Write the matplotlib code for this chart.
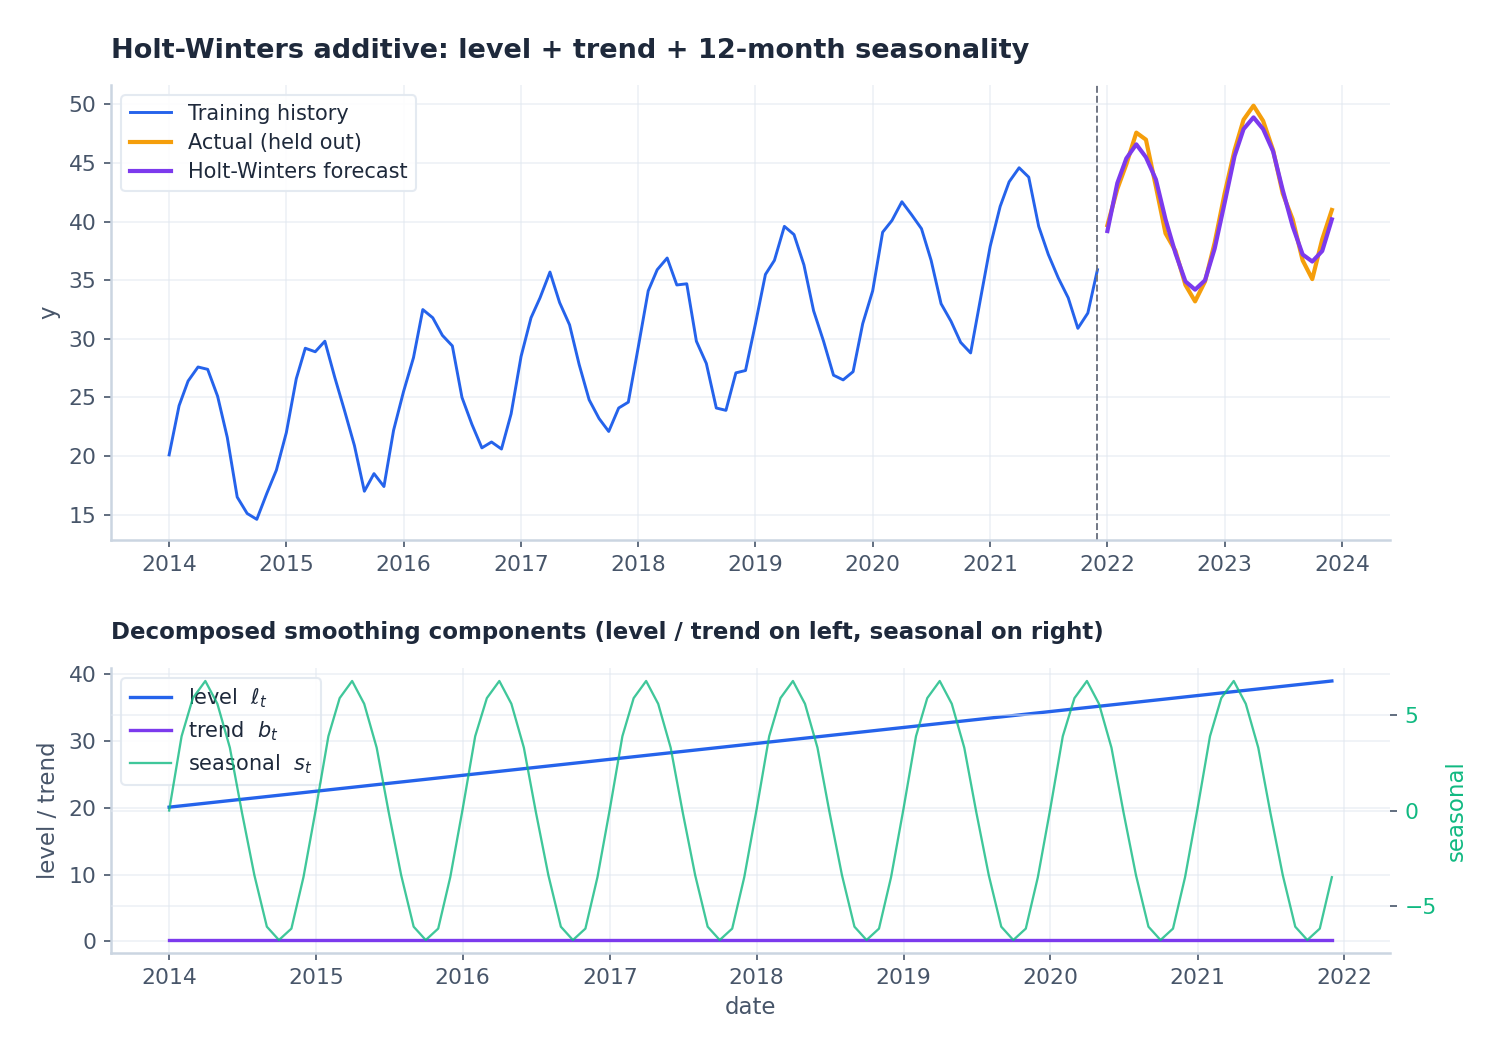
import matplotlib
matplotlib.use('Agg')
import matplotlib.pyplot as plt
import matplotlib.dates as mdates
from matplotlib.ticker import MultipleLocator
import pandas as pd

# monthly dates
train_dates = pd.date_range('2014-01-01', '2021-12-01', freq='MS')
test_dates = pd.date_range('2022-01-01', '2023-12-01', freq='MS')

train_y = [
    20.1, 24.3, 26.4, 27.6, 27.4, 25.1, 21.6, 16.5, 15.1, 14.6, 16.8, 18.8,
    22.0, 26.6, 29.2, 28.9, 29.8, 26.7, 23.9, 20.9, 17.0, 18.5, 17.4, 22.2,
    25.5, 28.4, 32.5, 31.8, 30.3, 29.4, 25.0, 22.7, 20.7, 21.2, 20.6, 23.6,
    28.5, 31.8, 33.5, 35.7, 33.1, 31.2, 27.8, 24.8, 23.2, 22.1, 24.1, 24.6,
    29.3, 34.1, 35.9, 36.9, 34.6, 34.7, 29.8, 27.9, 24.1, 23.9, 27.1, 27.3,
    31.3, 35.5, 36.7, 39.6, 38.9, 36.3, 32.4, 29.8, 26.9, 26.5, 27.2, 31.3,
    34.1, 39.1, 40.1, 41.7, 40.6, 39.4, 36.7, 33.0, 31.5, 29.7, 28.8, 33.3,
    37.9, 41.3, 43.4, 44.6, 43.8, 39.6, 37.2, 35.2, 33.5, 30.9, 32.2, 35.9,
]
actual_y = [
    39.7, 42.8, 44.9, 47.6, 47.0, 43.0, 39.0, 37.5, 34.6, 33.2, 34.9, 38.2,
    42.4, 46.1, 48.7, 49.9, 48.6, 46.1, 42.4, 40.2, 36.7, 35.1, 38.5, 41.0,
]
forecast_y = [
    39.2, 43.3, 45.4, 46.6, 45.5, 43.6, 40.2, 37.3, 34.9, 34.2, 35.0, 37.7,
    41.6, 45.6, 47.9, 48.9, 47.9, 46.0, 42.7, 39.6, 37.2, 36.6, 37.5, 40.2,
]

# components (level is a straight line: start / end)
level_dates = [train_dates[0], train_dates[-1]]
level_y = [20.1, 39.0]
trend_y = [0.2, 0.2]
seasonal_y = [
    0.0, 3.9, 5.9, 6.8, 5.6, 3.3, -0.1, -3.4, -6.1, -6.8, -6.2, -3.5,
    0.1, 3.9, 5.9, 6.8, 5.6, 3.3, -0.1, -3.4, -6.1, -6.8, -6.2, -3.5,
    0.1, 3.9, 5.9, 6.8, 5.6, 3.3, -0.1, -3.4, -6.1, -6.8, -6.2, -3.5,
    0.1, 3.9, 5.9, 6.8, 5.6, 3.3, -0.1, -3.4, -6.1, -6.8, -6.2, -3.5,
    0.1, 3.9, 5.9, 6.8, 5.6, 3.3, -0.1, -3.4, -6.1, -6.8, -6.2, -3.5,
    0.1, 3.9, 5.9, 6.8, 5.6, 3.3, -0.1, -3.4, -6.1, -6.8, -6.2, -3.5,
    0.1, 3.9, 5.9, 6.8, 5.6, 3.3, -0.1, -3.4, -6.1, -6.8, -6.2, -3.5,
    0.1, 3.9, 5.9, 6.8, 5.6, 3.3, -0.1, -3.4, -6.1, -6.8, -6.2, -3.5,
]

BLUE = '#2563eb'
ORANGE = '#f59e0b'
PURPLE = '#7c3aed'
GREEN = '#10b981'
TEXT = '#1e293b'
TICK = '#475569'
SPINE = '#cbd5e1'
GRID = '#e2e8f0'

plt.rcParams['font.family'] = ['DejaVu Sans']

fig = plt.figure(figsize=(1504 / 150, 1057 / 150), dpi=150)
ax = fig.add_axes([0.0738, 0.4891, 0.8504, 0.4305])
bx = fig.add_axes([0.0738, 0.0984, 0.8504, 0.2696])


def style(a):
    a.spines['top'].set_visible(False)
    a.spines['right'].set_visible(False)
    a.spines['left'].set_color(SPINE)
    a.spines['bottom'].set_color(SPINE)
    a.spines['left'].set_linewidth(1.2)
    a.spines['bottom'].set_linewidth(1.2)
    a.tick_params(colors=TICK, labelsize=10.5, labelcolor=TICK)
    a.grid(True, color=GRID, alpha=0.6, lw=0.8)
    a.set_axisbelow(True)
    a.xaxis.set_major_locator(mdates.YearLocator())
    a.xaxis.set_major_formatter(mdates.DateFormatter('%Y'))


def style_legend(leg):
    leg.get_frame().set_edgecolor(GRID)
    leg.get_frame().set_alpha(0.9)


# top panel
style(ax)
ax.plot(train_dates, train_y, color=BLUE, lw=1.4, label='Training history')
ax.plot(test_dates, actual_y, color=ORANGE, lw=2.0, label='Actual (held out)')
ax.plot(test_dates, forecast_y, color=PURPLE, lw=2.0, label='Holt-Winters forecast')
ax.axvline(train_dates[-1], color='#6b7280', lw=0.9, ls='--')
ax.set_ylabel('y', color=TICK, fontsize=11)
ax.set_title('Holt-Winters additive: level + trend + 12-month seasonality',
             loc='left', fontsize=13, fontweight='bold', color=TEXT, pad=13)
style_legend(ax.legend(loc='upper left', fontsize=10, labelspacing=0.45,
                       frameon=True, labelcolor=TEXT))

# bottom panel
style(bx)
l1, = bx.plot(level_dates, level_y, color=BLUE, lw=1.6, label=r'level  $\ell_t$')
l2, = bx.plot(level_dates, trend_y, color=PURPLE, lw=1.6, label=r'trend  $b_t$')
bx.set_ylabel('level / trend', color=TICK, fontsize=11)
bx.set_xlabel('date', color=TICK, fontsize=11)
bx.set_title('Decomposed smoothing components (level / trend on left, seasonal on right)',
             loc='left', fontsize=11, fontweight='bold', color=TEXT, pad=14)

bx2 = bx.twinx()
l3, = bx2.plot(train_dates, seasonal_y, color=GREEN, lw=1.1, alpha=0.8, label=r'seasonal  $s_t$')
for s in ['top', 'right', 'left', 'bottom']:
    bx2.spines[s].set_visible(False)
bx2.yaxis.set_major_locator(MultipleLocator(5))
bx2.tick_params(axis='y', colors=TICK, labelcolor=GREEN, labelsize=10.5)
bx2.grid(True, color=GRID, alpha=0.6, lw=0.8)
bx2.set_ylabel('seasonal', color=GREEN, fontsize=11)

style_legend(bx.legend([l1, l2, l3], [l1.get_label(), l2.get_label(), l3.get_label()],
                       loc='upper left', fontsize=10, labelspacing=0.45,
                       frameon=True, labelcolor=TEXT))

fig.savefig('out.png', dpi=150)
